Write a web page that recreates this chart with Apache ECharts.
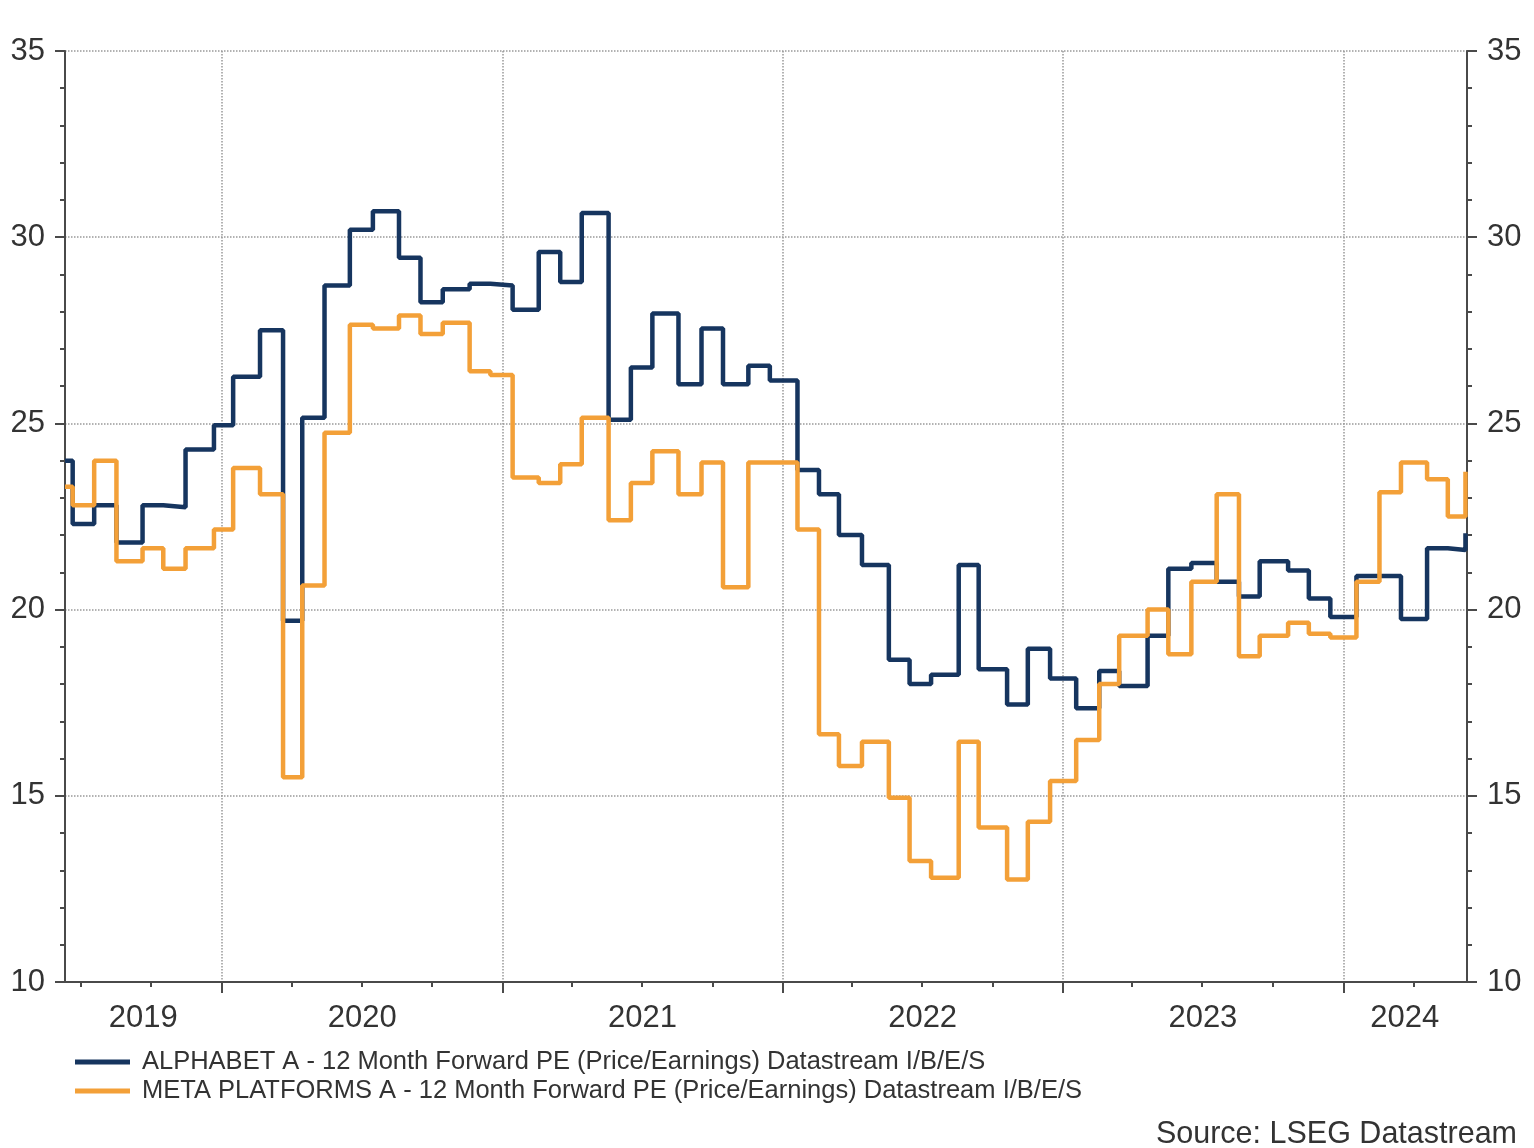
<!DOCTYPE html>
<html>
<head>
<meta charset="utf-8">
<title>Forward PE</title>
<script src="https://cdn.jsdelivr.net/npm/echarts@6.0.0/dist/echarts.min.js"></script>
<style>
  * { margin: 0; padding: 0; }
  body { background: #fff; }
</style>
</head>
<body>
<!-- container for the chart -->
<div id="main" style="width:1534px;height:1148px;"></div>
<script>
// dates where the monthly estimate changes (weekly sample)
var stepDates = [
  '2019-06-11', '2019-06-21', '2019-07-19', '2019-08-17', '2019-09-20', '2019-10-17',
  '2019-11-15', '2019-12-22', '2020-01-16', '2020-02-20', '2020-03-21', '2020-04-15',
  '2020-05-14', '2020-06-16', '2020-07-16', '2020-08-19', '2020-09-16', '2020-10-15',
  '2020-11-19', '2020-12-16', '2021-01-14', '2021-02-17', '2021-03-17', '2021-04-14',
  '2021-05-19', '2021-06-17', '2021-07-15', '2021-08-18', '2021-09-17', '2021-10-15',
  '2021-11-17', '2021-12-15', '2022-01-20', '2022-02-17', '2022-03-15', '2022-04-14',
  '2022-05-19', '2022-06-15', '2022-07-13', '2022-08-18', '2022-09-13', '2022-10-20',
  '2022-11-16', '2022-12-15', '2023-01-18', '2023-02-17', '2023-03-15', '2023-04-21',
  '2023-05-18', '2023-06-17', '2023-07-20', '2023-08-18', '2023-09-14', '2023-10-21',
  '2023-11-17', '2023-12-15', '2024-01-18', '2024-02-17', '2024-03-16', '2024-04-19',
  '2024-05-16', '2024-06-08'
]

// ALPHABET A
var alphabetPE = [
  24.0, 22.3, 22.8, 21.8, 22.8, 22.75, 24.3, 24.95, 26.25, 27.5, 19.7, 25.15,
  28.7, 30.2, 30.7, 29.45, 28.25, 28.6, 28.75, 28.7, 28.05, 29.6, 28.8, 30.65,
  25.1, 26.5, 27.95, 26.05, 27.55, 26.05, 26.55, 26.15, 23.75, 23.1, 22.0, 21.2,
  18.65, 18.0, 18.25, 21.2, 18.4, 17.45, 18.95, 18.15, 17.35, 18.35, 17.95, 19.3,
  21.1, 21.25, 20.75, 20.35, 21.3, 21.05, 20.3, 19.8, 20.9, 20.9, 19.75, 21.65,
  21.6, 22.05
]

// META PLATFORMS A
var metaPE = [
  23.3, 22.8, 24.0, 21.3, 21.65, 21.1, 21.65, 22.15, 23.8, 23.1, 15.5, 20.65,
  24.75, 27.65, 27.55, 27.9, 27.4, 27.7, 26.4, 26.3, 23.55, 23.4, 23.9, 25.15,
  22.4, 23.4, 24.25, 23.1, 23.95, 20.6, 23.95, 23.95, 22.15, 16.65, 15.8, 16.45,
  14.95, 13.25, 12.8, 16.45, 14.15, 12.75, 14.3, 15.4, 16.5, 18.0, 19.3, 20.0,
  18.8, 20.75, 23.1, 18.75, 19.3, 19.65, 19.35, 19.25, 20.75, 23.15, 23.95, 23.5,
  22.5, 23.7
]

var seriesNames = [
  'ALPHABET A - 12 Month Forward PE (Price/Earnings) Datastream I/B/E/S',
  'META PLATFORMS A - 12 Month Forward PE (Price/Earnings) Datastream I/B/E/S'
]

// x axis range and tick / label positions
var xMin = '2019-06-11'
var xMax = '2024-06-10'
var yearStarts = ['2020-01-01', '2021-01-01', '2022-01-01', '2023-01-01', '2024-01-01']
var quarterStarts = [
  '2019-07-01', '2019-10-01', '2020-04-01', '2020-07-01', '2020-10-01',
  '2021-04-01', '2021-07-01', '2021-10-01', '2022-04-01', '2022-07-01', '2022-10-01',
  '2023-04-01', '2023-07-01', '2023-10-01', '2024-04-01'
]
var yearLabelAt = ['2019-09-21', '2020-07-02', '2021-07-02', '2022-07-02', '2023-07-02', '2024-03-21']

var fontFamily = '"Liberation Sans", Arial, sans-serif'
var axisColor = '#4a4a4a'

// date string -> timestamp (UTC)
function ts(s) {
  return new Date(s + 'T00:00:00Z').getTime()
}

function pairs(values) {
  return stepDates.map(function (d, i) { return [ts(d), values[i]] })
}

function yAxisCfg(pos) {
  return {
    type: 'value',
    position: pos,
    min: 10,
    max: 35,
    interval: 5,
    axisLine: { show: true, lineStyle: { color: axisColor, width: 2 } },
    axisTick: { show: true, inside: false, length: 10, lineStyle: { color: axisColor, width: 2 } },
    minorTick: { show: true, splitNumber: 5, length: 5, lineStyle: { color: axisColor, width: 2 } },
    axisLabel: { fontSize: 31, color: '#333', fontFamily: fontFamily, margin: 20 },
    splitLine: {
      show: pos === 'left',
      lineStyle: { type: 'dotted', color: '#999', width: 1.5 }
    }
  }
}

var myChart = echarts.init(document.getElementById('main'))
myChart.setOption({
  animation: false,
  backgroundColor: '#fff',
  grid: { left: 65, right: 67, top: 51, bottom: 166 },
  legend: {
    orient: 'vertical',
    left: 75,
    top: 1049,
    padding: 0,
    icon: 'rect',
    itemWidth: 55,
    itemHeight: 5,
    itemGap: 3,
    textStyle: {
      fontSize: 25.5, color: '#333', fontFamily: fontFamily, lineHeight: 26,
      padding: [0, 0, 0, 7]
    },
    data: seriesNames
  },
  xAxis: [
    {
      type: 'value',
      min: ts(xMin),
      max: ts(xMax),
      axisLine: { show: true, onZero: false, lineStyle: { color: axisColor, width: 2 } },
      axisTick: { show: true, customValues: yearStarts.map(ts), length: 11, lineStyle: { color: axisColor, width: 2 } },
      axisLabel: {
        customValues: yearLabelAt.map(ts),
        fontSize: 31,
        color: '#333',
        fontFamily: fontFamily,
        margin: 21,
        formatter: function (v) { return String(new Date(v).getUTCFullYear()) }
      },
      splitLine: { show: true, lineStyle: { type: 'dotted', color: '#999', width: 1.5 } }
    },
    {
      // quarterly small ticks
      type: 'value',
      min: ts(xMin),
      max: ts(xMax),
      position: 'bottom',
      axisLine: { show: false, onZero: false },
      axisTick: { show: true, customValues: quarterStarts.map(ts), length: 5, lineStyle: { color: axisColor, width: 2 } },
      axisLabel: { show: false },
      splitLine: { show: false }
    }
  ],
  yAxis: [yAxisCfg('left'), yAxisCfg('right')],
  graphic: [
    {
      type: 'text',
      right: 17,
      top: 1119,
      style: { text: 'Source: LSEG Datastream', font: '30.5px ' + fontFamily, fill: '#333' }
    }
  ],
  series: [
    {
      name: seriesNames[0],
      type: 'line',
      step: 'end',
      showSymbol: false,
      color: '#16355f',
      lineStyle: { width: 4.5, color: '#16355f' },
      data: pairs(alphabetPE)
    },
    {
      name: seriesNames[1],
      type: 'line',
      step: 'end',
      showSymbol: false,
      color: '#f3a038',
      lineStyle: { width: 4.5, color: '#f3a038' },
      data: pairs(metaPE)
    }
  ]
})
</script>
</body>
</html>
